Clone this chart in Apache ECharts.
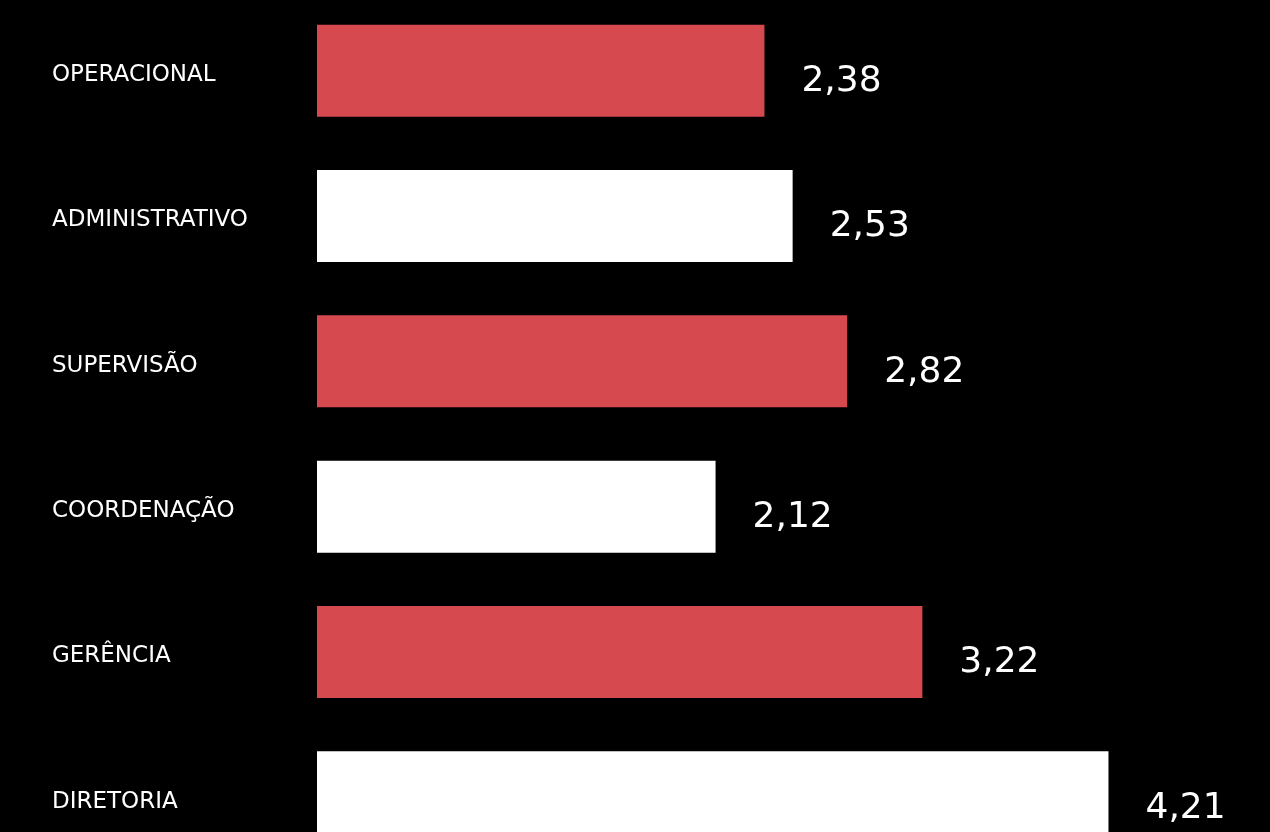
<!DOCTYPE html>
<html><head><meta charset="utf-8">
<script src="https://cdn.jsdelivr.net/npm/echarts@6/dist/echarts.min.js"></script>
<style>html,body{margin:0;padding:0;background:#000;overflow:hidden;width:1270px;height:832px;}#c{position:absolute;left:0;top:-2px;width:1270px;height:872px;}</style>
</head><body><div id="c"></div>
<script>
const categories = ['OPERACIONAL','ADMINISTRATIVO','SUPERVISÃO','COORDENAÇÃO','GERÊNCIA','DIRETORIA'];
const values = [2.38, 2.53, 2.82, 2.12, 3.22, 4.21];
const barColors = ['#D6494F','#FFFFFF','#D6494F','#FFFFFF','#D6494F','#FFFFFF'];
const FONT = 'DejaVu Sans';
const chart = echarts.init(document.getElementById('c'));
chart.setOption({
  backgroundColor: '#000',
  animation: false,
  grid: { left: 317, right: 13, top: 0, bottom: 0, containLabel: false },
  xAxis: { type: 'value', min: 0, max: 5, show: false },
  yAxis: {
    type: 'category', data: categories, inverse: true,
    axisLine: { show: false }, axisTick: { show: false }, splitLine: { show: false },
    axisLabel: {
      align: 'left', margin: 265, color: '#fff', fontSize: 23, fontFamily: FONT,
      verticalAlign: 'middle',
      formatter: v => '{a|' + v + '}',
      rich: { a: { color: '#fff', fontSize: 23, fontFamily: FONT, padding: [9, 0, 0, 0] } }
    }
  },
  series: [{
    type: 'bar', barWidth: 92,
    data: values.map((v, i) => ({ value: v, itemStyle: { color: barColors[i] } })),
    label: {
      show: true, position: 'right', distance: 37, offset: [0, 11],
      color: '#fff', fontSize: 36, fontFamily: FONT, fontWeight: 'normal',
      formatter: p => p.value.toFixed(2).replace('.', ',')
    }
  }]
});
</script></body></html>
